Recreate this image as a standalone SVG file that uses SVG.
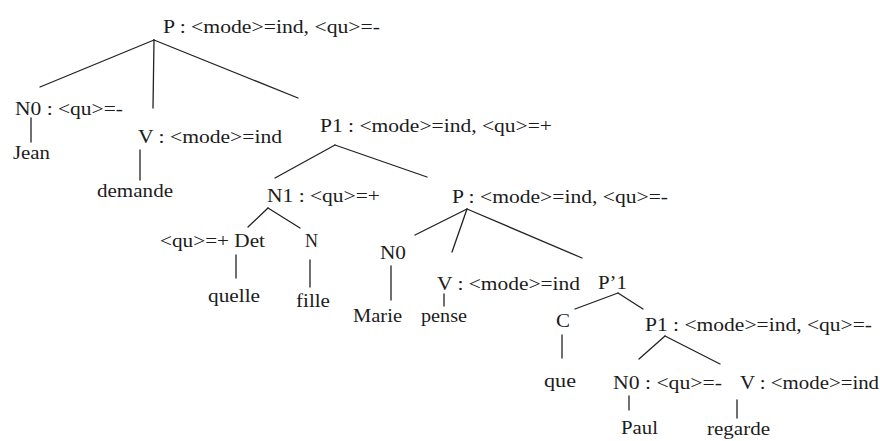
<svg xmlns="http://www.w3.org/2000/svg" width="880" height="441" viewBox="0 0 880 441">
<style>
text{font-family:"Liberation Serif","Times New Roman",serif;font-size:18px;fill:#1c1c1c}
.e{stroke:#222;stroke-width:1.3;fill:none;stroke-linecap:round}
</style>
<rect width="880" height="441" fill="#fff"/>
<g id="connectors">
<line class="e" x1="154" y1="40" x2="40" y2="87"/>
<line class="e" x1="154" y1="40" x2="153" y2="108"/>
<line class="e" x1="154" y1="40" x2="298" y2="98"/>
<line class="e" x1="31" y1="118" x2="31" y2="142"/>
<line class="e" x1="140" y1="150" x2="140" y2="180"/>
<line class="e" x1="335" y1="145" x2="275" y2="178"/>
<line class="e" x1="335" y1="145" x2="427" y2="177"/>
<line class="e" x1="268" y1="208" x2="248" y2="227"/>
<line class="e" x1="268" y1="208" x2="300" y2="228"/>
<line class="e" x1="236" y1="255" x2="236" y2="278"/>
<line class="e" x1="310" y1="260" x2="310" y2="287"/>
<line class="e" x1="467" y1="209" x2="415" y2="235"/>
<line class="e" x1="467" y1="209" x2="452" y2="252"/>
<line class="e" x1="467" y1="209" x2="582" y2="258"/>
<line class="e" x1="391" y1="266" x2="391" y2="300"/>
<line class="e" x1="444" y1="294" x2="444" y2="306"/>
<line class="e" x1="618" y1="293" x2="575" y2="309"/>
<line class="e" x1="618" y1="293" x2="643" y2="309"/>
<line class="e" x1="562" y1="335" x2="562" y2="358"/>
<line class="e" x1="665" y1="336" x2="639" y2="359"/>
<line class="e" x1="665" y1="336" x2="720" y2="364"/>
<line class="e" x1="629" y1="396" x2="629" y2="410"/>
<line class="e" x1="737" y1="400" x2="737" y2="418"/>
</g>
<g id="P-root"><text x="163" y="33" textLength="217" lengthAdjust="spacingAndGlyphs">P : &lt;mode&gt;=ind, &lt;qu&gt;=-</text></g>
<g id="N0-1"><text x="15" y="115" textLength="108" lengthAdjust="spacingAndGlyphs">N0 : &lt;qu&gt;=-</text></g>
<g id="Jean"><text x="13" y="159" textLength="37" lengthAdjust="spacingAndGlyphs">Jean</text></g>
<g id="V-1"><text x="138" y="143" textLength="144" lengthAdjust="spacingAndGlyphs">V : &lt;mode&gt;=ind</text></g>
<g id="demande"><text x="97" y="197" textLength="76" lengthAdjust="spacingAndGlyphs">demande</text></g>
<g id="P1-1"><text x="320" y="132" textLength="232" lengthAdjust="spacingAndGlyphs">P1 : &lt;mode&gt;=ind, &lt;qu&gt;=+</text></g>
<g id="N1"><text x="267" y="202" textLength="113" lengthAdjust="spacingAndGlyphs">N1 : &lt;qu&gt;=+</text></g>
<g id="Det"><text x="160" y="247" textLength="105" lengthAdjust="spacingAndGlyphs">&lt;qu&gt;=+ Det</text></g>
<g id="N"><text x="305" y="247" textLength="13" lengthAdjust="spacingAndGlyphs">N</text></g>
<g id="quelle"><text x="208" y="302" textLength="52" lengthAdjust="spacingAndGlyphs">quelle</text></g>
<g id="fille"><text x="296" y="307" textLength="34" lengthAdjust="spacingAndGlyphs">fille</text></g>
<g id="P-2"><text x="452" y="203" textLength="216" lengthAdjust="spacingAndGlyphs">P : &lt;mode&gt;=ind, &lt;qu&gt;=-</text></g>
<g id="N0-2"><text x="380" y="259" textLength="26" lengthAdjust="spacingAndGlyphs">N0</text></g>
<g id="Marie"><text x="353" y="322" textLength="49" lengthAdjust="spacingAndGlyphs">Marie</text></g>
<g id="V-2"><text x="437" y="290" textLength="143" lengthAdjust="spacingAndGlyphs">V : &lt;mode&gt;=ind</text></g>
<g id="pense"><text x="421" y="322" textLength="46" lengthAdjust="spacingAndGlyphs">pense</text></g>
<g id="P-prime-1"><text x="598" y="289" textLength="29" lengthAdjust="spacingAndGlyphs">P’1</text></g>
<g id="C"><text x="556" y="327" textLength="14" lengthAdjust="spacingAndGlyphs">C</text></g>
<g id="que"><text x="544" y="387" textLength="32" lengthAdjust="spacingAndGlyphs">que</text></g>
<g id="P1-2"><text x="645" y="331" textLength="227" lengthAdjust="spacingAndGlyphs">P1 : &lt;mode&gt;=ind, &lt;qu&gt;=-</text></g>
<g id="N0-3"><text x="613" y="389" textLength="109" lengthAdjust="spacingAndGlyphs">N0 : &lt;qu&gt;=-</text></g>
<g id="V-3"><text x="740" y="389" textLength="139" lengthAdjust="spacingAndGlyphs">V : &lt;mode&gt;=ind</text></g>
<g id="Paul"><text x="621" y="434" textLength="37" lengthAdjust="spacingAndGlyphs">Paul</text></g>
<g id="regarde"><text x="707" y="435" textLength="63" lengthAdjust="spacingAndGlyphs">regarde</text></g>
</svg>
